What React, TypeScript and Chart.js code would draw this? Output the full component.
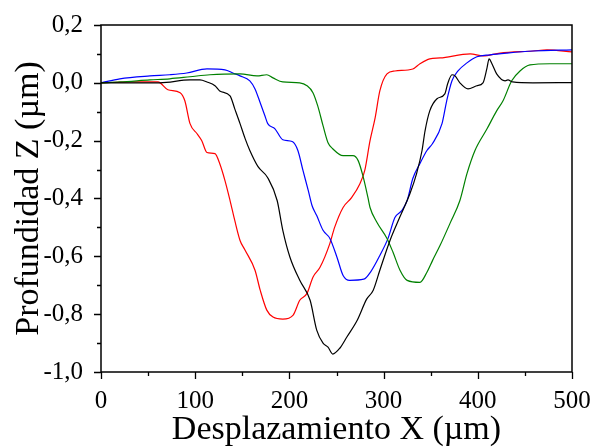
import React, { useEffect, useRef } from "react";
import { Chart, registerables } from "chart.js";

Chart.register(...registerables);

// Desplazamiento X (µm) / Profundidad Z (µm) profiles
const redX = [0, 31, 60.5, 71, 84, 89, 94.5, 102, 107, 112.5, 121, 126, 131.6, 137, 142, 147.6, 153, 163.5, 169, 176, 182.6, 193, 204, 211, 218.7, 225, 232.5, 243, 248, 257, 266, 275, 280, 285.6, 291, 296, 303.6, 312, 331, 338.6, 349, 360, 392, 405.5, 423.6, 458.6, 473.5, 500];
const redY = [0, 0.003, 0.003, -0.024, -0.034, -0.062, -0.141, -0.176, -0.2, -0.241, -0.245, -0.279, -0.338, -0.407, -0.476, -0.545, -0.579, -0.648, -0.717, -0.786, -0.81, -0.817, -0.803, -0.752, -0.728, -0.672, -0.638, -0.555, -0.5, -0.431, -0.397, -0.348, -0.303, -0.2, -0.121, -0.028, 0.031, 0.041, 0.048, 0.066, 0.083, 0.086, 0.1, 0.093, 0.103, 0.11, 0.114, 0.107];

const blackX = [0, 31, 62.6, 94.5, 105, 112.5, 121, 126, 137, 142, 147.6, 153, 158, 166.7, 177, 187, 193, 200.6, 211, 222, 229, 235.7, 241, 246, 253.7, 261, 272, 282, 289, 296, 306.8, 317, 328, 335, 340.8, 344, 349, 356.7, 365, 368, 372.6, 375.8, 381, 389.6, 399, 405.5, 409.8, 412, 415, 420, 429, 432, 437, 458.6, 500];
const blackY = [0, 0, 0, 0.01, 0.01, 0.003, -0.01, -0.028, -0.045, -0.09, -0.141, -0.193, -0.234, -0.29, -0.328, -0.407, -0.51, -0.603, -0.683, -0.752, -0.855, -0.9, -0.914, -0.938, -0.917, -0.879, -0.821, -0.748, -0.717, -0.648, -0.545, -0.466, -0.383, -0.314, -0.234, -0.166, -0.097, -0.055, -0.038, -0.003, 0.028, 0.024, 0, -0.021, -0.01, 0, 0.052, 0.083, 0.066, 0.031, 0.007, 0.01, 0.003, 0, 0.001];

const blueX = [0, 20, 52, 73, 91, 112.5, 131.6, 140, 147.6, 158, 163.5, 169, 174, 177, 184.7, 193, 203, 209, 214.4, 220, 224, 229, 235.7, 243, 250.5, 257, 264, 279, 286.6, 296, 304.7, 312, 319.5, 325, 331, 338.6, 346, 352, 362, 367, 372.6, 379, 388.5, 399, 413, 431, 458.6, 500];
const blueY = [0, 0.014, 0.024, 0.028, 0.034, 0.048, 0.045, 0.034, 0.024, 0.007, -0.021, -0.069, -0.114, -0.141, -0.159, -0.197, -0.203, -0.234, -0.303, -0.372, -0.424, -0.459, -0.51, -0.538, -0.603, -0.666, -0.683, -0.679, -0.652, -0.597, -0.538, -0.466, -0.441, -0.407, -0.331, -0.279, -0.234, -0.21, -0.141, -0.062, 0.007, 0.041, 0.069, 0.09, 0.097, 0.103, 0.11, 0.114];

const greenX = [0, 20, 52, 73, 94.5, 115.7, 147.6, 165.6, 176, 182.6, 193, 211, 218.7, 225, 230, 235.7, 241, 246, 257, 267.5, 273, 278, 283.4, 285.6, 293, 303.6, 310, 317.4, 325, 338.6, 346, 352, 360, 370.5, 381, 388.5, 397, 409.8, 420, 426.8, 436, 444.8, 455.4, 476.6, 500];
const greenY = [0, 0.003, 0.01, 0.014, 0.021, 0.028, 0.031, 0.024, 0.028, 0.017, 0.003, 0, -0.01, -0.034, -0.079, -0.148, -0.207, -0.228, -0.252, -0.252, -0.269, -0.321, -0.397, -0.431, -0.483, -0.538, -0.586, -0.648, -0.683, -0.69, -0.655, -0.614, -0.562, -0.486, -0.407, -0.314, -0.234, -0.159, -0.097, -0.062, 0.007, 0.041, 0.062, 0.066, 0.066];

const xTicks = [0, 100, 200, 300, 400, 500];
const yTicks = [-1.0, -0.8, -0.6, -0.4, -0.2, 0.0, 0.2];
const xTitle = "Desplazamiento X (µm)";
const yTitle = "Profundidad Z (µm)";

const pts = (xs: number[], ys: number[]) => xs.map((x, i) => ({ x, y: ys[i] }));

const frameTicks = {
  id: "frameTicks",
  afterDraw(chart: any) {
    const { ctx, chartArea } = chart;
    const xs = chart.scales.x;
    const ys = chart.scales.y;
    ctx.save();
    ctx.strokeStyle = "#000";
    ctx.lineWidth = 1.5;
    ctx.strokeRect(chartArea.left, chartArea.top, chartArea.right - chartArea.left, chartArea.bottom - chartArea.top);
    ctx.lineWidth = 1.3;
    ctx.beginPath();
    for (let i = 0; i <= 10; i++) {
      const v = i * 50;
      const px = Math.round(xs.getPixelForValue(v)) + 0.5;
      const len = i % 2 === 0 ? 7 : 4;
      ctx.moveTo(px, chartArea.bottom);
      ctx.lineTo(px, chartArea.bottom + len);
    }
    for (let i = 0; i <= 12; i++) {
      const v = -1 + i * 0.1;
      const py = Math.round(ys.getPixelForValue(v)) + 0.5;
      const len = i % 2 === 0 ? 7 : 4;
      ctx.moveTo(chartArea.left, py);
      ctx.lineTo(chartArea.left - len, py);
    }
    ctx.stroke();
    ctx.restore();
  },
};

export default function App() {
  const ref = useRef<HTMLCanvasElement | null>(null);
  useEffect(() => {
    document.body.style.margin = "0";
    const canvas = ref.current;
    if (!canvas) return;
    const mk = (label: string, xs: number[], ys: number[], color: string) => ({
      label,
      data: pts(xs, ys),
      borderColor: color,
      backgroundColor: color,
      borderWidth: 1.2,
      pointRadius: 0,
      showLine: true,
      fill: false,
      cubicInterpolationMode: "monotone" as const,
    });
    const chart = new Chart(canvas, {
      type: "scatter",
      data: {
        datasets: [
          mk("Negro", blackX, blackY, "#000000"),
          mk("Verde", greenX, greenY, "#008000"),
          mk("Azul", blueX, blueY, "#0000ff"),
          mk("Rojo", redX, redY, "#ff0000"),
        ],
      },
      plugins: [frameTicks],
      options: {
        animation: false,
        responsive: false,
        events: [],
        layout: { padding: { top: 24, right: 30, left: 0, bottom: 0 } },
        plugins: { legend: { display: false }, tooltip: { enabled: false } },
        scales: {
          x: {
            type: "linear",
            min: 0,
            max: 500,
            afterBuildTicks: (s: any) => {
              s.ticks = xTicks.map((v) => ({ value: v }));
            },
            afterFit: (s: any) => {
              s.height = 75;
            },
            grid: { display: false },
            border: { display: false },
            ticks: {
              autoSkip: false,
              maxRotation: 0,
              padding: 6,
              color: "#000",
              font: { family: "Liberation Serif", size: 25 },
              callback: (v: any) => String(v),
            },
            title: {
              display: true,
              text: xTitle,
              color: "#000",
              font: { family: "Liberation Serif", size: 34, lineHeight: 1 },
              padding: { top: 0, bottom: 0 },
            },
          },
          y: {
            type: "linear",
            min: -1,
            max: 0.2,
            afterBuildTicks: (s: any) => {
              s.ticks = yTicks.map((v) => ({ value: v }));
            },
            afterFit: (s: any) => {
              s.width = 101;
            },
            grid: { display: false },
            border: { display: false },
            ticks: {
              autoSkip: false,
              padding: 10,
              color: "#000",
              font: { family: "Liberation Serif", size: 25 },
              callback: (v: any) => {
                const n = Math.round(Number(v) * 10) / 10;
                const s = (Math.abs(n) < 1e-9 ? 0 : n).toFixed(1).replace(".", ",");
                return s;
              },
            },
            title: {
              display: true,
              text: yTitle,
              color: "#000",
              font: { family: "Liberation Serif", size: 34, lineHeight: 1 },
              padding: { top: 12, bottom: 0 },
            },
          },
        },
      },
    });
    return () => chart.destroy();
  }, []);
  return (
    <div style={{ width: 602, height: 447 }}>
      <canvas ref={ref} width={602} height={447} />
    </div>
  );
}
